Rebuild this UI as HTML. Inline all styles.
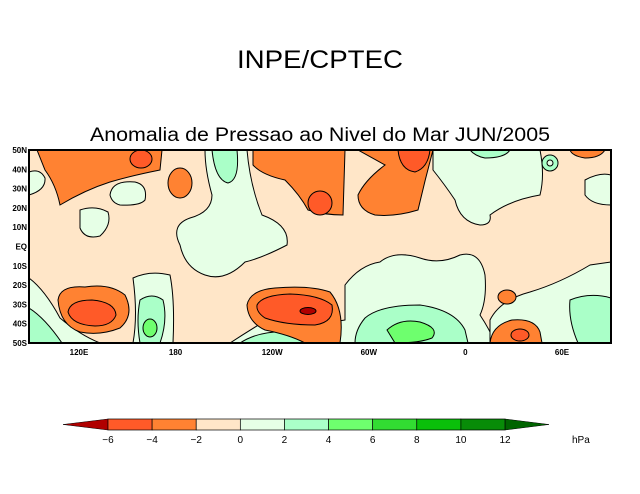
<!DOCTYPE html>
<html><head><meta charset="utf-8"><style>
body{margin:0;background:#fff;}
svg{display:block;font-family:"Liberation Sans",sans-serif;}
</style></head><body>
<svg width="640" height="494" viewBox="0 0 640 494">
<text x="320" y="68" font-size="25" text-anchor="middle" textLength="166" lengthAdjust="spacingAndGlyphs">INPE/CPTEC</text>
<text x="320" y="141" font-size="19" text-anchor="middle" textLength="460" lengthAdjust="spacingAndGlyphs">Anomalia de Pressao ao Nivel do Mar JUN/2005</text>
<defs><clipPath id="mapclip"><rect x="29" y="150" width="582" height="193"/></clipPath></defs>
<g clip-path="url(#mapclip)" stroke="#000" stroke-width="1">
<rect x="29" y="150" width="582" height="193" fill="#ffe6c8" stroke="none"/>
<path d="M29,172 Q40,168 45,178 Q46,190 29,195 Z" fill="#e6ffe6"/>
<path d="M110,195 Q112,180 135,182 Q148,185 145,200 Q140,206 120,205 Q112,203 110,195 Z" fill="#e6ffe6"/>
<path d="M80,210 Q95,205 108,212 Q112,225 100,236 Q85,240 80,228 Z" fill="#e6ffe6"/>
<path d="M205,150 L247,150 Q250,185 262,215 Q290,225 287,245 Q262,258 245,262 Q225,282 205,275 Q185,268 180,245 Q170,225 190,218 Q212,212 212,195 Q205,170 205,150 Z" fill="#e6ffe6"/>
<path d="M212,150 L237,150 Q240,180 228,183 Q215,180 212,150 Z" fill="#aaffc8"/>
<path d="M133,278 Q150,270 170,275 Q175,300 173,343 L133,343 Q138,315 133,278 Z" fill="#e6ffe6"/>
<path d="M140,300 Q152,292 163,300 Q168,320 160,343 L140,343 Q136,320 140,300 Z" fill="#aaffc8"/>
<ellipse cx="150" cy="328" rx="7" ry="9" fill="#6eff6e"/>
<path d="M29,278 Q45,290 60,318 Q80,335 100,343 L29,343 Z" fill="#e6ffe6"/>
<path d="M29,308 Q45,318 62,343 L29,343 Z" fill="#aaffc8"/>
<path d="M433,150 L540,150 Q545,175 540,195 Q510,200 490,215 Q492,225 480,225 Q460,222 455,200 Q445,185 433,170 Z" fill="#e6ffe6"/>
<path d="M470,150 L510,150 Q505,158 485,158 Q475,156 470,150 Z" fill="#aaffc8"/>
<circle cx="550" cy="163" r="8" fill="#aaffc8"/>
<circle cx="550" cy="163" r="3" fill="#e6ffe6"/>
<path d="M585,180 Q600,172 611,175 L611,205 Q592,205 585,195 Z" fill="#e6ffe6"/>
<path d="M345,285 Q360,265 380,262 Q395,250 420,258 Q440,265 460,255 Q480,250 485,275 Q487,300 480,315 Q490,330 495,343 L230,343 Q250,330 270,318 Q320,325 345,320 Z" fill="#e6ffe6"/>
<path d="M365,318 Q380,305 420,305 Q455,310 465,330 L468,343 L355,343 Q355,330 365,318 Z" fill="#aaffc8"/>
<path d="M387,330 Q400,318 420,322 Q440,328 432,338 Q420,343 395,343 Z" fill="#6eff6e"/>
<path d="M490,320 Q500,300 530,292 Q560,283 590,265 Q611,262 611,262 L611,343 L490,343 Z" fill="#e6ffe6"/>
<path d="M570,300 Q590,292 611,298 L611,343 L578,343 Q568,320 570,300 Z" fill="#aaffc8"/>
<path d="M240,343 Q260,330 290,332 Q310,336 315,343 Z" fill="#aaffc8"/>
<path d="M37,150 L162,150 L160,170 Q130,176 110,182 Q85,190 60,205 Q56,185 45,170 Z" fill="#ff8232"/>
<ellipse cx="141" cy="159" rx="11" ry="9" fill="#ff5a28"/>
<ellipse cx="180" cy="183" rx="12" ry="15" fill="#ff8232"/>
<path d="M58,300 Q60,285 85,287 Q110,283 125,295 Q135,315 120,328 Q100,336 80,332 Q60,325 58,300 Z" fill="#ff8232"/>
<path d="M68,312 Q70,300 92,300 Q115,302 116,315 Q112,326 95,326 Q72,325 68,312 Z" fill="#ff5a28"/>
<path d="M247,305 Q250,290 275,288 Q310,285 330,292 Q345,310 340,343 L305,343 Q290,335 265,330 Q248,322 247,305 Z" fill="#ff8232"/>
<path d="M257,305 Q262,295 290,294 Q320,295 332,305 Q335,322 315,325 Q285,325 265,318 Q256,312 257,305 Z" fill="#ff5a28"/>
<ellipse cx="308" cy="311" rx="8" ry="3.5" fill="#b00000"/>
<path d="M253,150 L345,150 L343,215 Q325,215 308,210 Q300,195 285,180 Q262,175 253,165 Z" fill="#ff8232"/>
<ellipse cx="320" cy="203" rx="12" ry="12" fill="#ff5a28"/>
<path d="M358,150 L433,150 Q425,180 418,210 Q395,217 375,215 Q358,210 358,195 Q365,180 385,165 Z" fill="#ff8232"/>
<path d="M398,150 L430,150 Q428,168 415,172 Q400,170 398,150 Z" fill="#ff5a28"/>
<ellipse cx="507" cy="297" rx="9" ry="7" fill="#ff8232"/>
<path d="M490,343 Q492,325 512,320 Q535,318 540,332 L542,343 Z" fill="#ff8232"/>
<ellipse cx="520" cy="335" rx="9" ry="6" fill="#ff5a28"/>
<path d="M570,150 L605,150 Q600,158 585,158 Q572,156 570,150 Z" fill="#ff8232"/>
</g>
<rect x="29" y="150" width="582" height="193" fill="none" stroke="#000" stroke-width="2"/>
<g font-size="8" font-weight="bold" text-anchor="end" id="ylabels"></g>
<g font-size="8" font-weight="bold" text-anchor="middle" id="xlabels"></g>
<g id="colorbar"></g>
<text x="572" y="443" font-size="10">hPa</text>
</svg>
<script>
const levels=[-6,-4,-2,0,2,4,6,8,10,12];
const colors=["#ff5a28","#ff8232","#ffe6c8","#e6ffe6","#aaffc8","#6eff6e","#32dc32","#0ac00a","#088c08"];
const latLabels=["50N","40N","30N","20N","10N","EQ","10S","20S","30S","40S","50S"];
const lonLabels=["120E","180","120W","60W","0","60E"];
const lonValues=[120,180,240,300,360,420];
const NS="http://www.w3.org/2000/svg";
function mk(t,a){const e=document.createElementNS(NS,t);for(const k in a)e.setAttribute(k,a[k]);return e;}
const lonX=v=>79+(v-120)*(96.6/60);
const latY=i=>150+i*19.3;
const yl=document.getElementById('ylabels');
latLabels.forEach((l,i)=>{const t=mk('text',{x:27,y:latY(i)+3});t.textContent=l;

yl.appendChild(t);});
const xl=document.getElementById('xlabels');
lonLabels.forEach((l,i)=>{const t=mk('text',{x:lonX(lonValues[i]),y:355});t.textContent=l;

xl.appendChild(t);});
const cb=document.getElementById('colorbar');
const cx=v=>108+(v+6)*(397/18);
const y0=419,y1=430,ym=424.5;
const left=mk('polygon',{points:`${cx(-6)},${y0} ${cx(-6)},${y1} 63,${ym}`,fill:"#b00000",stroke:"#000","stroke-width":0.5});

cb.appendChild(left);
const right=mk('polygon',{points:`${cx(12)},${y0} ${cx(12)},${y1} 549,${ym}`,fill:"#006400",stroke:"#000","stroke-width":0.5});

cb.appendChild(right);
for(let i=0;i<colors.length;i++){
 const r=mk('rect',{x:cx(levels[i]),y:y0,width:cx(levels[i+1])-cx(levels[i]),height:y1-y0,fill:colors[i],stroke:"#000","stroke-width":0.7});
 
 cb.appendChild(r);
}
levels.forEach(v=>{const t=mk('text',{x:cx(v),y:443,"font-size":10,"text-anchor":"middle"});t.textContent=v<0?"\u2212"+(-v):v;

cb.appendChild(t);});
</script>
</body></html>
